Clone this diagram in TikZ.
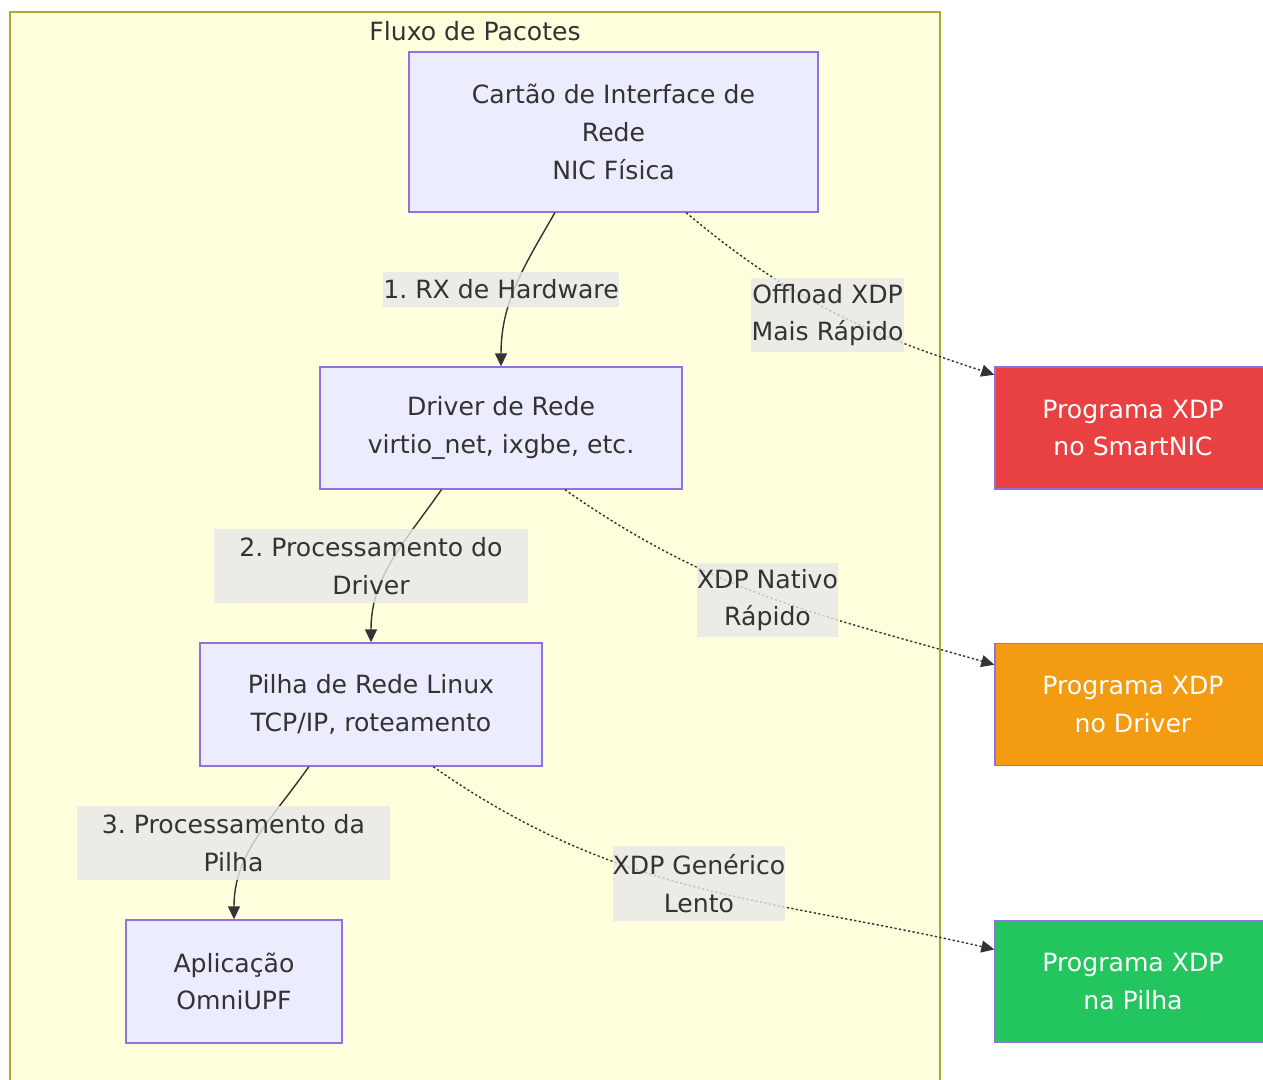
\documentclass[tikz,border=0pt]{standalone}
\usepackage{fontspec}
\setmainfont{DejaVu Sans}
\usetikzlibrary{arrows.meta}
\frenchspacing

\definecolor{clusterfill}{HTML}{FFFFDE}
\definecolor{clusterline}{HTML}{AAAA33}
\definecolor{boxfill}{HTML}{ECECFF}
\definecolor{boxline}{HTML}{9370DB}
\definecolor{ink}{HTML}{333333}
\definecolor{labelbg}{HTML}{E8E8E8}
\definecolor{xdpred}{HTML}{E94141}
\definecolor{xdporange}{HTML}{F39C12}
\definecolor{xdpgreen}{HTML}{22C55E}

\tikzset{
  every node/.style={font=\fontsize{14.3}{21.5}\selectfont, text=ink},
  flowbox/.style={draw=boxline, fill=boxfill, line width=0.8pt, align=center},
  xdpbox/.style={draw=boxline, line width=0.8pt, align=center, text=white,
    minimum width=5.52cm, minimum height=2.44cm},
  edgelabel/.style={fill=labelbg, fill opacity=0.8, text opacity=1, align=center,
    inner sep=0pt},
  flow/.style={draw=ink, line width=0.8pt, -{Stealth[length=0.26cm, width=0.24cm, inset=0pt]}},
  hook/.style={flow, dash pattern=on 1.3pt off 1.3pt}
}

\begin{document}
\begin{tikzpicture}
  \useasboundingbox (0cm, 0cm) rectangle (25.26cm, -21.58cm);

  \draw[fill=clusterfill, draw=clusterline, line width=0.8pt]
    (0.2cm, -0.24cm) rectangle (18.8cm, -22.2cm);
  \node (title) at (9.5cm, -0.62cm) {Fluxo de Pacotes};

  \node[flowbox, minimum width=8.18cm, minimum height=3.2cm] (nic) at (12.27cm, -2.64cm)
    {Cartão de Interface de\\Rede\\NIC Física};
  \node[flowbox, minimum width=7.24cm, minimum height=2.44cm] (driver) at (10.02cm, -8.56cm)
    {Driver de Rede\\virtio\_net, ixgbe, etc.};
  \node[flowbox, minimum width=6.84cm, minimum height=2.46cm] (stack) at (7.42cm, -14.09cm)
    {Pilha de Rede Linux\\TCP/IP, roteamento};
  \node[flowbox, minimum width=4.32cm, minimum height=2.46cm] (app) at (4.68cm, -19.63cm)
    {Aplicação\\OmniUPF};

  \node[xdpbox, fill=xdpred] (smartnic) at (22.66cm, -8.56cm) {Programa XDP\\no SmartNIC};
  \node[xdpbox, fill=xdporange] (native) at (22.66cm, -14.09cm) {Programa XDP\\no Driver};
  \node[xdpbox, fill=xdpgreen] (generic) at (22.66cm, -19.63cm) {Programa XDP\\na Pilha};

  \draw[flow] (nic.234) to[out=-120, in=90] (driver.north);
  \draw[flow] (driver.226) to[out=-125, in=90] (stack.north);
  \draw[flow] (stack.225) to[out=-125, in=90] (app.north);

  \draw[hook] (nic.-48) to[out=-40, in=162] (smartnic.159);
  \draw[hook] (driver.-44) to[out=-35, in=164] (native.164);
  \draw[hook] (stack.-45) to[out=-35, in=167] (generic.167);

  \node[edgelabel, minimum width=4.72cm, minimum height=0.7cm] (rx) at (10.02cm, -5.79cm)
    {1. RX de Hardware};
  \node[edgelabel, minimum width=6.28cm, minimum height=1.48cm] (drvproc) at (7.42cm, -11.32cm)
    {2. Processamento do\\Driver};
  \node[edgelabel, minimum width=6.26cm, minimum height=1.48cm] (stackproc) at (4.67cm, -16.86cm)
    {3. Processamento da\\Pilha};
  \node[edgelabel, minimum width=3.06cm, minimum height=1.48cm] (offload) at (16.55cm, -6.3cm)
    {Offload XDP\\Mais Rápido};
  \node[edgelabel, minimum width=2.82cm, minimum height=1.48cm] (nativelbl) at (15.35cm, -12.0cm)
    {XDP Nativo\\Rápido};
  \node[edgelabel, minimum width=3.44cm, minimum height=1.5cm] (genericlbl) at (13.98cm, -17.67cm)
    {XDP Genérico\\Lento};

\end{tikzpicture}
\end{document}
